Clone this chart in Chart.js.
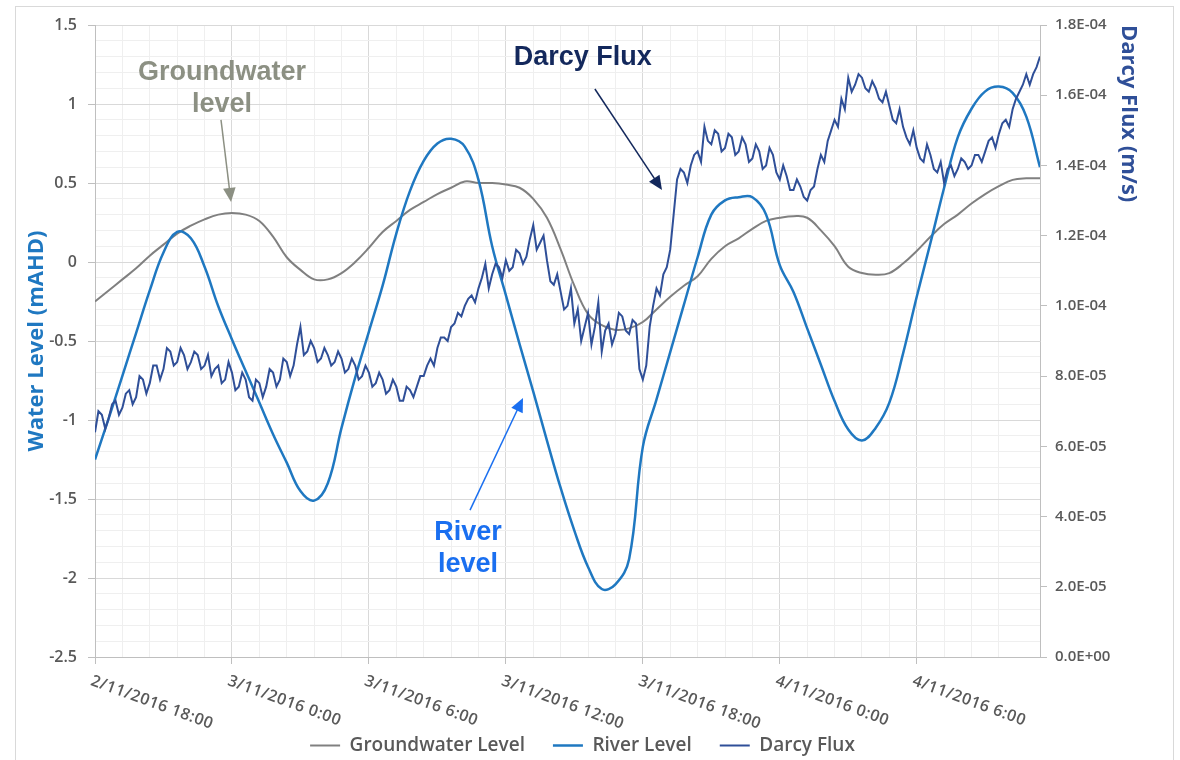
<!DOCTYPE html>
<html>
<head>
<meta charset="utf-8">
<script src="https://cdn.jsdelivr.net/npm/chart.js@4.4.1/dist/chart.umd.min.js"></script>
<style>
  html, body { margin: 0; padding: 0; background: #fff; }
</style>
</head>
<body>
<canvas id="myChart" width="1180" height="760"></canvas>
<script>
// x axis: hours after 2/11/2016 18:00
const xTickHours = [0, 6, 12, 18, 24, 30, 36];
const xTickLabels = ['2/11/2016 18:00', '3/11/2016 0:00', '3/11/2016 6:00', '3/11/2016 12:00',
                     '3/11/2016 18:00', '4/11/2016 0:00', '4/11/2016 6:00'];
const lastHour = 41.4;

// water levels are read every 0.6 h, flux every 0.15 h
const levelHours = Array.from({length: 70}, (_, i) => +(i * 0.6).toFixed(2));
const fluxHours = Array.from({length: 277}, (_, i) => +(i * 0.15).toFixed(2));

// Water level (mAHD)
const groundwaterLevel = [
  -0.25, -0.18, -0.11, -0.04, 0.04, 0.11, 0.18, 0.23, 0.27, 0.30,
  0.31, 0.30, 0.26, 0.16, 0.03, -0.05, -0.11, -0.11, -0.07, 0.00,
  0.09, 0.19, 0.26, 0.33, 0.38, 0.43, 0.47, 0.51, 0.50, 0.50,
  0.49, 0.47, 0.40, 0.28, 0.08, -0.15, -0.33, -0.40, -0.43, -0.42,
  -0.38, -0.30, -0.22, -0.15, -0.09, 0.02, 0.10, 0.15, 0.21, 0.26,
  0.28, 0.29, 0.28, 0.20, 0.10, -0.03, -0.07, -0.08, -0.07, -0.01,
  0.07, 0.16, 0.24, 0.30, 0.37, 0.43, 0.48, 0.52, 0.53, 0.53
];
const riverLevel = [
  -1.25, -0.99, -0.72, -0.45, -0.18, 0.06, 0.19, 0.15, -0.03, -0.28,
  -0.49, -0.69, -0.89, -1.09, -1.27, -1.45, -1.51, -1.40, -1.05, -0.73,
  -0.44, -0.15, 0.18, 0.45, 0.64, 0.75, 0.78, 0.73, 0.52, 0.10,
  -0.21, -0.52, -0.82, -1.13, -1.43, -1.70, -1.93, -2.07, -2.04, -1.88,
  -1.17, -0.87, -0.57, -0.27, 0.03, 0.30, 0.39, 0.41, 0.41, 0.30,
  -0.02, -0.19, -0.42, -0.65, -0.88, -1.06, -1.13, -1.05, -0.89, -0.58,
  -0.22, 0.12, 0.47, 0.79, 0.97, 1.08, 1.11, 1.07, 0.92, 0.60
];
// Darcy flux in units of 1E-05 m/s
const darcyFlux = [
  6.4, 7.0, 6.9, 6.5, 6.8, 7.2, 7.3, 6.9, 7.1, 7.5, 7.6, 7.2, 7.4, 8.0, 7.9, 7.5, 7.8, 8.3, 8.3, 7.9,
  8.2, 8.8, 8.7, 8.3, 8.4, 8.8, 8.6, 8.2, 8.4, 8.7, 8.6, 8.2, 8.3, 8.6, 8.0, 8.2, 8.3, 7.8, 7.9, 8.4,
  8.1, 7.6, 7.7, 8.1, 7.9, 7.4, 7.3, 7.9, 7.8, 7.4, 7.7, 8.2, 8.1, 7.7, 7.9, 8.5, 8.4, 8.0, 8.3, 8.9,
  9.4, 8.6, 8.7, 9.0, 8.8, 8.4, 8.5, 8.8, 8.6, 8.3, 8.4, 8.7, 8.5, 8.1, 8.2, 8.5, 8.3, 7.9, 8.0, 8.3,
  8.1, 7.7, 7.8, 8.1, 7.9, 7.5, 7.6, 7.9, 7.7, 7.3, 7.3, 7.7, 7.6, 7.4, 7.7, 8.0, 8.0, 8.3, 8.5, 8.3,
  8.8, 9.1, 9.1, 9.0, 9.4, 9.5, 9.8, 9.7, 10.0, 10.2, 10.3, 10.1, 10.5, 10.8, 11.2, 10.5, 10.9, 11.2, 11.1, 10.8,
  11.3, 11.0, 11.1, 11.6, 11.5, 11.2, 11.4, 11.9, 12.3, 11.6, 11.8, 12.0, 11.3, 10.7, 10.6, 10.9, 10.4, 9.9, 10.0, 10.5,
  9.5, 9.9, 9.0, 9.4, 9.8, 8.9, 9.4, 10.1, 8.7, 9.3, 9.5, 8.9, 9.2, 9.8, 9.7, 9.3, 9.2, 9.6, 9.5, 8.2,
  7.9, 8.3, 9.4, 10.0, 10.5, 10.3, 10.9, 11.1, 11.6, 12.6, 13.6, 13.9, 13.8, 13.5, 14.0, 14.3, 14.4, 14.1, 15.1, 14.7,
  14.6, 15.0, 14.9, 14.4, 14.5, 14.9, 14.8, 14.3, 14.4, 14.8, 14.6, 14.1, 14.2, 14.6, 14.4, 13.9, 14.0, 14.5, 14.3, 13.8,
  13.6, 14.0, 13.7, 13.3, 13.3, 13.6, 13.4, 13.1, 13.0, 13.3, 13.4, 13.9, 14.3, 14.1, 14.7, 15.0, 15.3, 15.1, 15.9, 15.6,
  16.5, 16.1, 16.3, 16.6, 16.5, 16.2, 16.1, 16.4, 16.2, 15.9, 15.8, 16.1, 15.7, 15.3, 15.2, 15.6, 15.1, 14.8, 14.6, 15.0,
  14.5, 14.2, 14.1, 14.6, 14.3, 13.9, 13.8, 14.1, 13.5, 13.9, 14.0, 13.7, 13.9, 14.2, 14.1, 13.9, 14.0, 14.3, 14.3, 14.1,
  14.4, 14.7, 14.8, 14.5, 14.9, 15.2, 15.3, 15.1, 15.6, 15.9, 16.1, 16.3, 16.6, 16.3, 16.6, 16.8, 17.1
];

const gwColor = '#808080';
const riverColor = '#1f78c1';
const fluxColor = '#2f4f98';
const textGrey = '#595959';

// callouts drawn on the plot, anchored in data units (hours, mAHD)
const callouts = [
  { lines: ['Groundwater', 'level'], color: '#8c9083', at: [5.56, 1.196], from: [5.52, 0.90], to: [5.96, 0.38] },
  { lines: ['Darcy Flux'], color: '#13285c', at: [21.37, 1.297], from: [21.9, 1.095], to: [24.84, 0.456] },
  { lines: ['River', 'level'], color: '#1a6ff0', at: [16.34, -1.715], from: [16.43, -1.57], to: [18.75, -0.86] }
];

Chart.defaults.font.family = "'Open Sans', sans-serif";

function near(v, step) {
  return Math.abs(v / step - Math.round(v / step)) < 1e-6;
}
function sci(v) {
  if (Math.abs(v) < 1e-12) return '0.0E+00';
  let e = Math.floor(Math.log10(Math.abs(v)) + 1e-9);
  let m = v / Math.pow(10, e);
  return m.toFixed(1) + 'E' + (e < 0 ? '-' : '+') + String(Math.abs(e)).padStart(2, '0');
}
function pairs(xs, ys) {
  return ys.map((y, i) => ({x: xs[i], y: y}));
}

function drawArrow(ctx, x1, y1, x2, y2, color) {
  const a = Math.atan2(y2 - y1, x2 - x1);
  const head = 14;
  ctx.strokeStyle = color;
  ctx.fillStyle = color;
  ctx.lineWidth = 1.5;
  ctx.beginPath();
  ctx.moveTo(x1, y1);
  ctx.lineTo(x2 - Math.cos(a) * head * 0.8, y2 - Math.sin(a) * head * 0.8);
  ctx.stroke();
  ctx.beginPath();
  ctx.moveTo(x2, y2);
  ctx.lineTo(x2 - head * Math.cos(a) + head * 0.45 * Math.sin(a), y2 - head * Math.sin(a) - head * 0.45 * Math.cos(a));
  ctx.lineTo(x2 - head * Math.cos(a) - head * 0.45 * Math.sin(a), y2 - head * Math.sin(a) + head * 0.45 * Math.cos(a));
  ctx.closePath();
  ctx.fill();
}

const frame = {
  id: 'frame',
  beforeDraw(chart) {
    const ctx = chart.ctx;
    ctx.save();
    ctx.fillStyle = '#fff';
    ctx.fillRect(0, 0, chart.width, chart.height);
    ctx.strokeStyle = '#d9d9d9';
    ctx.lineWidth = 1;
    ctx.strokeRect(15.5, 6.5, 1158, 760);
    ctx.restore();
  }
};

const xLabels = {
  id: 'xLabels',
  afterDraw(chart) {
    const ctx = chart.ctx, xs = chart.scales.x;
    ctx.save();
    ctx.font = "600 16px 'Open Sans'";
    ctx.letterSpacing = '0.5px';
    ctx.fillStyle = textGrey;
    ctx.textAlign = 'left';
    ctx.textBaseline = 'top';
    xTickHours.forEach((h, i) => {
      ctx.save();
      ctx.translate(xs.getPixelForValue(h) - 1, xs.top + 16);
      ctx.rotate(20 * Math.PI / 180);
      ctx.fillText(xTickLabels[i], 0, 0);
      ctx.restore();
    });
    ctx.restore();
  }
};

const notes = {
  id: 'notes',
  afterDatasetsDraw(chart) {
    const ctx = chart.ctx, xs = chart.scales.x, ys = chart.scales.y;
    ctx.save();
    callouts.forEach(c => {
      ctx.font = "bold 27px 'Liberation Sans', Arial, sans-serif";
      ctx.fillStyle = c.color;
      ctx.textAlign = 'center';
      ctx.textBaseline = 'middle';
      const px = xs.getPixelForValue(c.at[0]), py = ys.getPixelForValue(c.at[1]);
      c.lines.forEach((t, i) => ctx.fillText(t, px, py + i * 32));
      drawArrow(ctx, xs.getPixelForValue(c.from[0]), ys.getPixelForValue(c.from[1]),
                xs.getPixelForValue(c.to[0]), ys.getPixelForValue(c.to[1]), c.color);
    });
    ctx.restore();
  }
};

const myChart = new Chart(document.getElementById('myChart'), {
  type: 'line',
  data: {
    datasets: [
      {
        label: 'Groundwater Level',
        data: pairs(levelHours, groundwaterLevel),
        borderColor: gwColor,
        backgroundColor: gwColor,
        borderWidth: 2,
        tension: 0.4,
        pointRadius: 0,
        yAxisID: 'y',
        order: 2
      },
      {
        label: 'River Level',
        data: pairs(levelHours, riverLevel),
        borderColor: riverColor,
        backgroundColor: riverColor,
        borderWidth: 2.5,
        tension: 0.4,
        pointRadius: 0,
        yAxisID: 'y',
        order: 1
      },
      {
        label: 'Darcy Flux',
        data: pairs(fluxHours, darcyFlux),
        borderColor: fluxColor,
        backgroundColor: fluxColor,
        borderWidth: 2,
        tension: 0,
        pointRadius: 0,
        yAxisID: 'y1',
        order: 0
      }
    ]
  },
  options: {
    responsive: false,
    animation: false,
    devicePixelRatio: 1,
    layout: { padding: { left: 15, right: 30, top: 25, bottom: -5 } },
    plugins: {
      tooltip: { enabled: false },
      legend: {
        position: 'bottom',
        labels: {
          usePointStyle: true,
          pointStyle: 'line',
          pointStyleWidth: 30,
          color: textGrey,
          font: { size: 19, weight: '600' },
          padding: 28,
          sort: (a, b) => a.datasetIndex - b.datasetIndex
        }
      }
    },
    scales: {
      x: {
        type: 'linear',
        min: 0,
        max: lastHour,
        ticks: { stepSize: 1.2, display: false, autoSkip: false },
        grid: {
          color: c => near(c.tick.value, 6) ? '#d9d9d9' : '#efefef',
          tickColor: c => near(c.tick.value, 6) ? '#bfbfbf' : 'rgba(0,0,0,0)',
          tickLength: 7
        },
        border: { color: '#bfbfbf' },
        afterFit: s => { s.height = 51; }
      },
      y: {
        position: 'left',
        min: -2.5,
        max: 1.5,
        ticks: {
          stepSize: 0.1,
          autoSkip: false,
          color: textGrey,
          font: { size: 16, weight: '600' },
          padding: 11,
          callback: v => near(v, 0.5) ? String(Math.round(v * 10) / 10 || 0) : ''
        },
        grid: {
          color: c => near(c.tick.value, 0.5) ? '#d9d9d9' : '#efefef',
          tickColor: c => near(c.tick.value, 0.5) ? '#bfbfbf' : 'rgba(0,0,0,0)',
          tickLength: 7
        },
        border: { color: '#bfbfbf' },
        title: {
          display: true,
          text: 'Water Level (mAHD)',
          color: riverColor,
          font: { size: 22, weight: 'bold' },
          padding: { top: 9, bottom: 0 }
        },
        afterFit: s => { s.width = 80; }
      },
      y1: {
        position: 'right',
        min: 0,
        max: 18,
        ticks: {
          stepSize: 2,
          color: textGrey,
          font: { size: 15, weight: '600' },
          padding: 8,
          callback: v => sci(v * 1e-5)
        },
        grid: { drawOnChartArea: false, tickColor: '#bfbfbf', tickLength: 7 },
        border: { color: '#bfbfbf' },
        title: {
          display: true,
          text: 'Darcy Flux (m/s)',
          align: 'end',
          color: fluxColor,
          font: { size: 22, weight: 'bold' },
          padding: { top: 9, bottom: 0 }
        },
        afterFit: s => { s.width = 110; }
      }
    }
  },
  plugins: [frame, xLabels, notes]
});
</script>
</body>
</html>
